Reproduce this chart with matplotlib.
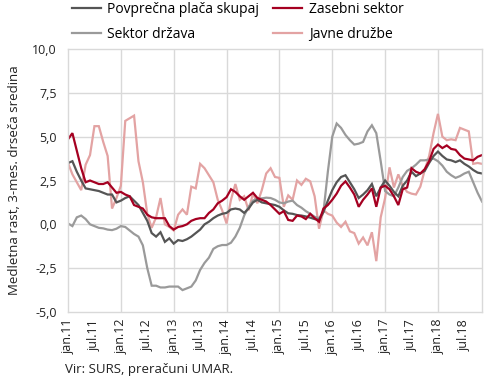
import matplotlib
matplotlib.use("Agg")
import matplotlib.pyplot as plt
from matplotlib.ticker import FuncFormatter

plt.rcParams['font.family'] = ['Open Sans', 'DejaVu Sans']

# Months Jan 2011 .. Nov 2018 (95 months)
tick_labels = ["jan.11", "jul.11", "jan.12", "jul.12", "jan.13", "jul.13", "jan.14", "jul.14",
               "jan.15", "jul.15", "jan.16", "jul.16", "jan.17", "jul.17", "jan.18", "jul.18"]

povprecna = [3.5, 3.6, 3.0, 2.5, 2.05, 2.0, 1.95, 1.9, 1.8, 1.7, 1.7, 1.25,
             1.35, 1.5, 1.6, 1.35, 1.1, 0.65, 0.2, -0.5, -0.7, -0.45, -1.0, -0.8,
             -1.1, -0.9, -0.95, -0.85, -0.7, -0.5, -0.3, 0.0, 0.15, 0.35, 0.5, 0.6,
             0.65, 0.85, 0.9, 0.85, 0.65, 0.9, 1.25, 1.4, 1.25, 1.2, 1.15, 1.1,
             1.0, 0.8, 0.63, 0.6, 0.53, 0.5, 0.45, 0.38, 0.3, 0.25, 0.7, 1.35,
             1.95, 2.4, 2.7, 2.8, 2.4, 2.0, 1.5, 1.7, 1.95, 2.3, 1.6, 2.1,
             2.5, 2.2, 1.85, 1.6, 2.2, 2.5, 3.0, 2.75, 2.9, 3.05, 3.5, 3.9,
             4.15, 3.9, 3.7, 3.65, 3.55, 3.65, 3.45, 3.3, 3.1, 2.95, 2.9]

zasebni = [4.85, 5.2, 4.2, 3.2, 2.4, 2.5, 2.4, 2.3, 2.3, 2.4, 2.1, 1.8,
           1.85, 1.7, 1.6, 1.1, 1.0, 0.9, 0.55, 0.4, 0.35, 0.35, 0.35, -0.1,
           -0.3, -0.15, -0.1, 0.0, 0.2, 0.3, 0.35, 0.35, 0.65, 0.85, 1.2, 1.35,
           1.55, 2.0, 1.85, 1.6, 1.4, 1.6, 1.8, 1.5, 1.4, 1.3, 1.1, 0.85,
           0.6, 0.75, 0.25, 0.2, 0.5, 0.45, 0.3, 0.6, 0.35, 0.15, 0.9, 1.1,
           1.4, 1.75, 2.2, 2.45, 2.1, 1.7, 1.0, 1.4, 1.7, 2.05, 1.0, 2.1,
           2.2, 2.0, 1.6, 1.1, 2.0, 2.1, 3.2, 3.0, 2.9, 3.15, 3.6, 4.3,
           4.55, 4.35, 4.5, 4.3, 4.25, 3.95, 3.75, 3.7, 3.65, 3.85, 3.95]

drzava = [0.05, -0.1, 0.4, 0.5, 0.3, 0.0, -0.1, -0.2, -0.23, -0.3, -0.33, -0.25,
          -0.1, -0.15, -0.35, -0.55, -0.7, -1.2, -2.5, -3.5, -3.5, -3.6, -3.6, -3.55,
          -3.55, -3.55, -3.75, -3.65, -3.55, -3.2, -2.6, -2.2, -1.9, -1.4, -1.25, -1.18,
          -1.18, -1.05, -0.7, -0.2, 0.5, 1.0, 1.35, 1.48, 1.48, 1.52, 1.5, 1.4,
          1.25, 1.2, 1.3, 1.35, 1.1, 0.95, 0.75, 0.6, 0.43, 0.35, 0.7, 3.0,
          5.0, 5.75, 5.5, 5.1, 4.8, 4.55, 4.6, 4.7, 5.3, 5.65, 5.2, 3.6,
          1.9, 1.7, 1.6, 2.1, 2.7, 3.05, 3.2, 3.4, 3.65, 3.65, 3.7, 3.75,
          3.6, 3.35, 3.0, 2.8, 2.65, 2.75, 2.9, 3.0, 2.4, 1.8, 1.3]

javne = [3.5, 2.85, 2.4, 1.95, 3.4, 3.95, 5.6, 5.6, 4.7, 3.9, 0.9, 1.5,
         2.2, 5.9, 6.05, 6.2, 3.6, 2.4, 0.6, -0.2, 0.4, 1.5, 0.0, -0.15,
         -0.35, 0.55, 0.85, 0.55, 2.15, 2.05, 3.45, 3.2, 2.8, 2.4, 1.4, 0.8,
         0.05, 1.4, 2.3, 1.4, 1.6, 0.8, 1.75, 1.2, 1.95, 2.9, 3.2, 2.7,
         2.65, 1.0, 1.65, 1.4, 2.5, 2.25, 2.6, 2.45, 1.6, -0.25, 0.8, 0.6,
         0.5, 0.1, -0.15, 0.15, -0.4, -0.5, -1.1, -0.75, -1.2, -0.45, -2.1, 0.4,
         1.5, 3.25, 2.1, 2.85, 2.2, 1.85, 1.75, 1.7, 2.15, 3.1, 3.9, 5.2,
         6.3, 5.0, 4.8, 4.85, 4.8, 5.5, 5.4, 5.3, 3.45, 3.5, 3.45]

series_names = ["Povprečna plača skupaj", "Sektor država", "Zasebni sektor", "Javne družbe"]
series_data = [povprecna, drzava, zasebni, javne]
series_colors = ["#555555", "#9a9a9a", "#a50021", "#e3a3a3"]

fig = plt.figure(figsize=(4.9, 3.82), dpi=100)
ax = fig.add_axes([68/490, 1-312/382, (482-68)/490, (312-49)/382])

x = list(range(len(povprecna)))
draw_order = [3, 1, 0, 2]
handles = {}
for i in draw_order:
    ln, = ax.plot(x, series_data[i], color=series_colors[i], lw=1.6, label=series_names[i],
                  solid_joinstyle='miter')
    handles[i] = ln

ax.set_xlim(0, 94)
ax.set_ylim(-5, 10)
ax.set_yticks([-5, -2.5, 0, 2.5, 5, 7.5, 10])
ax.yaxis.set_major_formatter(FuncFormatter(lambda v, p: f"{v:.1f}".replace('.', ',')))
ax.set_xticks(list(range(0, 96, 6)))
ax.set_xticklabels(tick_labels, rotation=90, fontsize=9, color="#222222")
ax.tick_params(axis='y', labelsize=9, colors="#222222", length=0, pad=8)
ax.tick_params(axis='x', length=0, pad=5)

for yv in [-2.5, 0, 2.5, 5, 7.5]:
    ax.axhline(yv, color="#d9d9d9", lw=1.0, zorder=0)
for xv in range(12, 94, 12):
    ax.axvline(xv, color="#d9d9d9", lw=1.0, zorder=0)
for s in ax.spines.values():
    s.set_color("#d9d9d9")
    s.set_linewidth(1.0)

ax.set_ylabel("Medletna rast, 3-mes. drseča sredina", fontsize=9.5, color="#222222", labelpad=8)

fig.legend([handles[0], handles[1], handles[2], handles[3]], series_names,
           loc='upper left', bbox_to_anchor=(72/490, 1 - 2/382), ncol=2, frameon=False,
           fontsize=10, handlelength=2.1, handletextpad=0.45, columnspacing=1.0,
           labelspacing=0.7, borderpad=0.0, borderaxespad=0)

fig.text(65/490, 1-370/382, "Vir: SURS, preračuni UMAR.", fontsize=9.5, color="#222222",
         va='center', ha='left')

fig.savefig("out.png", dpi=100)
